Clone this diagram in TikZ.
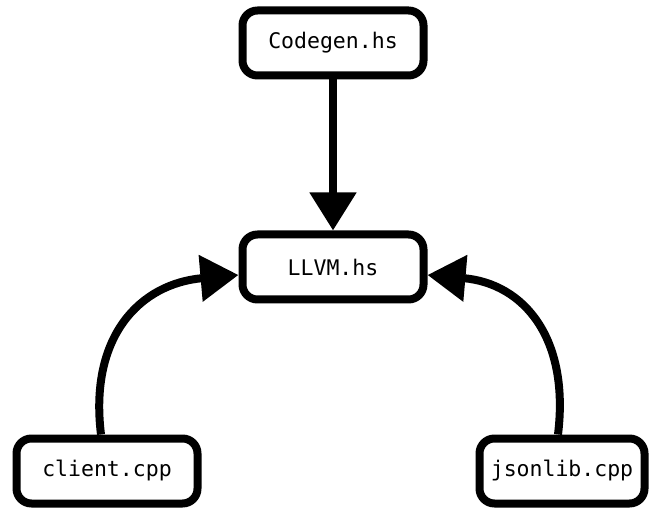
\documentclass[tikz,border=0pt]{standalone}
\usepackage{fontspec}
\setmonofont{DejaVu Sans Mono}
\usetikzlibrary{arrows.meta, positioning}
\tikzset{
    depgraph/.style={x=1pt, y=1pt, line width=8pt,
        font=\ttfamily\fontsize{21.5}{25}\selectfont},
    filebox/.style={draw, rounded corners=15pt, fill=white,
        minimum width=181pt, minimum height=65pt, align=center},
    % big filled heads, as in the sketch
    dep/.style={-{Triangle[length=38pt, width=45pt]}},
}
\begin{document}
\begin{tikzpicture}[depgraph]
    \useasboundingbox (0,0) rectangle (653,-510);
    \node[filebox]                          (codegen) at (333,-43)  {Codegen.hs};
    \node[filebox, below=151pt of codegen]  (llvm)                  {LLVM.hs};
    \node[filebox]                          (client)  at (107,-471) {client.cpp};
    \node[filebox, minimum width=165pt]     (jsonlib) at (562,-471) {jsonlib.cpp};

    \draw[dep] (codegen) -- (llvm);
    \draw[dep] ([xshift=-6pt]client.north) to[out=97, in=185, looseness=1.2] ([yshift=-8pt]llvm.west);
    \draw[dep] ([xshift=-4pt]jsonlib.north) to[out=83, in=-5, looseness=1.2] ([yshift=-8pt]llvm.east);
\end{tikzpicture}
\end{document}
